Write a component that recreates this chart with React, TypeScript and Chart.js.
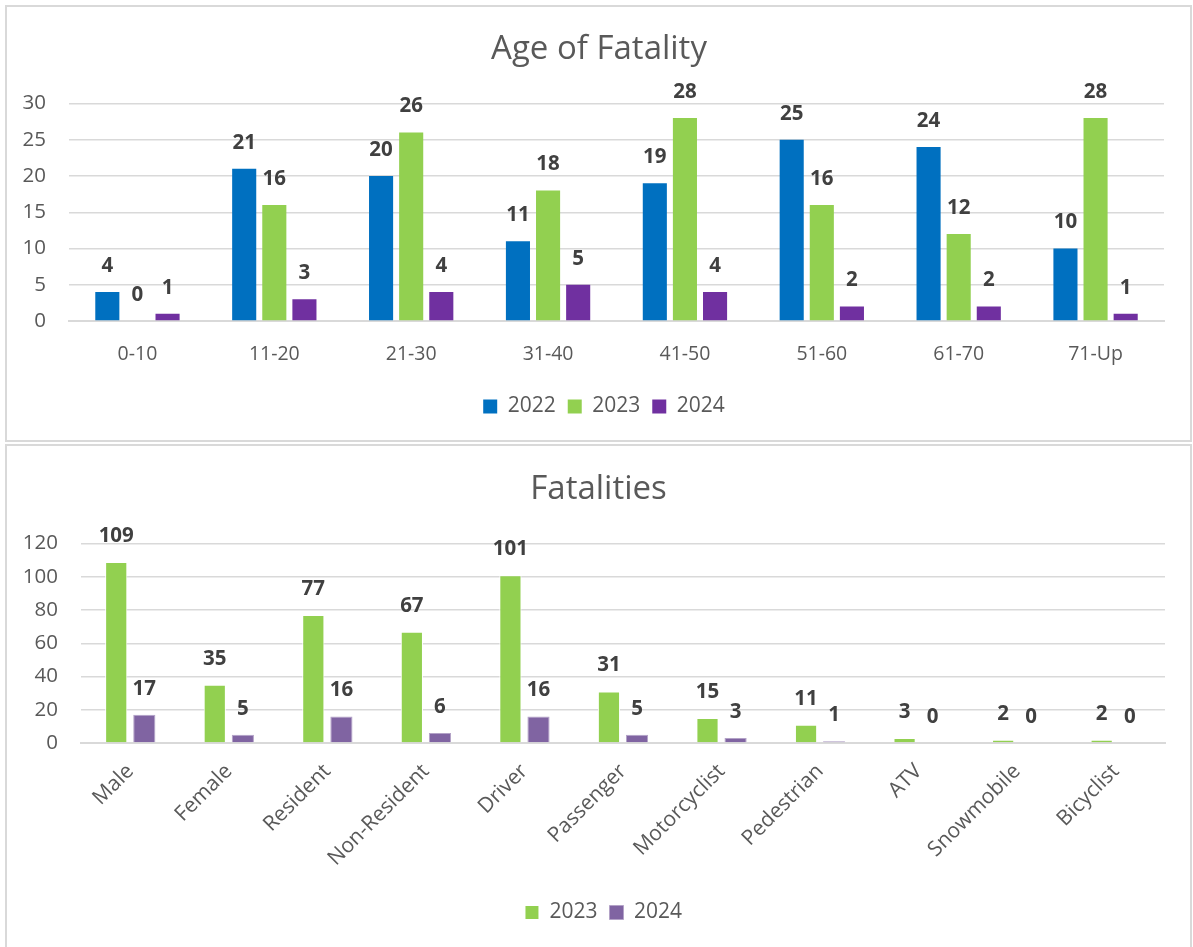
import React, { useEffect, useRef } from "react";
import { Chart, registerables } from "chart.js";

Chart.register(...registerables);

const ageCategories = ["0-10", "11-20", "21-30", "31-40", "41-50", "51-60", "61-70", "71-Up"];
const age2022 = [4, 21, 20, 11, 19, 25, 24, 10];
const age2023 = [0, 16, 26, 18, 28, 16, 12, 28];
const age2024 = [1, 3, 4, 5, 4, 2, 2, 1];
const ageTicks = [0, 5, 10, 15, 20, 25, 30];

const fatCategories = ["Male", "Female", "Resident", "Non-Resident", "Driver", "Passenger", "Motorcyclist", "Pedestrian", "ATV", "Snowmobile", "Bicyclist"];
const fat2023 = [109, 35, 77, 67, 101, 31, 15, 11, 3, 2, 2];
const fat2024 = [17, 5, 16, 6, 16, 5, 3, 1, 0, 0, 0];
const fatTicks = [0, 20, 40, 60, 80, 100, 120];

const FONT = '"Open Sans", sans-serif';
const TEXT = "#595959";
const GRID = "#d9d9d9";

const valueLabels = {
  id: "valueLabels",
  afterDatasetsDraw(chart: any) {
    const ctx = chart.ctx;
    ctx.save();
    ctx.font = `bold 20.5px ${FONT}`;
    ctx.fillStyle = "#404040";
    ctx.textAlign = "center";
    ctx.textBaseline = "middle";
    chart.data.datasets.forEach((ds: any, i: number) => {
      const meta = chart.getDatasetMeta(i);
      meta.data.forEach((bar: any, j: number) => {
        ctx.fillText(String(ds.data[j]), bar.x, bar.y - 26);
      });
    });
    ctx.restore();
  },
};

// shift title and legend horizontally so they are centred like the reference
function shiftBoxes(titleDx: number, legendDx: number) {
  return {
    id: "shiftBoxes",
    afterLayout(chart: any) {
      const t = chart.titleBlock;
      if (t) {
        t.left += titleDx;
        t.right += titleDx;
      }
      const l = chart.legend;
      if (l) {
        l.left += legendDx;
        l.right += legendDx;
      }
    },
  };
}

function makeOptions(p: {
  title: string;
  titleTop: number;
  titleBottom: number;
  padR: number;
  padB: number;
  yWidth: number;
  xHeight: number;
  max: number;
  step: number;
  rotate: boolean;
  xFont: number;
  xPad: number;
}) {
  return {
    responsive: false,
    animation: false as const,
    events: [],
    layout: { padding: { left: 0, right: p.padR, top: 0, bottom: p.padB } },
    plugins: {
      title: {
        display: true,
        text: p.title,
        color: TEXT,
        font: { family: FONT, size: 33, weight: "normal" as const },
        padding: { top: p.titleTop, bottom: p.titleBottom },
      },
      legend: {
        position: "bottom" as const,
        labels: {
          color: TEXT,
          font: { family: FONT, size: 21 },
          boxWidth: 14,
          boxHeight: 14,
          padding: 12,
        },
      },
      tooltip: { enabled: false },
    },
    scales: {
      x: {
        grid: { display: false, drawTicks: false },
        border: { display: true, color: GRID, width: 2 },
        ticks: {
          color: TEXT,
          font: { family: FONT, size: p.xFont },
          padding: p.xPad,
          autoSkip: false,
          maxRotation: p.rotate ? 45 : 0,
          minRotation: p.rotate ? 45 : 0,
        },
        afterFit(scale: any) {
          scale.height = p.xHeight;
        },
      },
      y: {
        min: 0,
        max: p.max,
        grid: { color: GRID, lineWidth: 1.5, drawTicks: false },
        border: { display: false },
        ticks: {
          stepSize: p.step,
          color: TEXT,
          font: { family: FONT, size: 20.5 },
          padding: 23,
        },
        afterFit(scale: any) {
          scale.width = p.yWidth;
        },
      },
    },
  };
}

function AgeChart() {
  const ref = useRef<HTMLCanvasElement>(null);
  useEffect(() => {
    const chart = new Chart(ref.current!, {
      type: "bar",
      data: {
        labels: ageCategories,
        datasets: [
          { label: "2022", data: age2022, backgroundColor: "#0070C0", categoryPercentage: 0.66, barPercentage: 0.8 },
          { label: "2023", data: age2023, backgroundColor: "#92D050", categoryPercentage: 0.66, barPercentage: 0.8 },
          { label: "2024", data: age2024, backgroundColor: "#7030A0", categoryPercentage: 0.66, barPercentage: 0.8 },
        ],
      },
      options: makeOptions({
        title: "Age of Fatality",
        titleTop: 30,
        titleBottom: 34,
        padR: 29,
        padB: 14,
        yWidth: 69,
        xHeight: 63,
        max: ageTicks[ageTicks.length - 1],
        step: ageTicks[1] - ageTicks[0],
        rotate: false,
        xFont: 19.5,
        xPad: 22,
      }) as any,
      plugins: [valueLabels, shiftBoxes(17, 22)],
    });
    return () => chart.destroy();
  }, []);
  return <canvas ref={ref} width={1193} height={441} style={{ position: "absolute", left: 0, top: 0 }} />;
}

function FatChart() {
  const ref = useRef<HTMLCanvasElement>(null);
  useEffect(() => {
    const chart = new Chart(ref.current!, {
      type: "bar",
      data: {
        labels: fatCategories,
        datasets: [
          { label: "2023", data: fat2023, backgroundColor: "#92D050", borderColor: "#ffffff", borderWidth: 1, categoryPercentage: 0.57, barPercentage: 0.79 },
          { label: "2024", data: fat2024, backgroundColor: "#8064A2", borderColor: "#b3a2c7", borderWidth: 1, categoryPercentage: 0.57, barPercentage: 0.79 },
        ],
      },
      options: makeOptions({
        title: "Fatalities",
        titleTop: 27,
        titleBottom: 34,
        padR: 28,
        padB: 14,
        yWidth: 81,
        xHeight: 147,
        max: fatTicks[fatTicks.length - 1],
        step: fatTicks[1] - fatTicks[0],
        rotate: true,
        xFont: 21,
        xPad: 16,
      }) as any,
      plugins: [valueLabels, shiftBoxes(16, 21)],
    });
    return () => chart.destroy();
  }, []);
  return <canvas ref={ref} width={1193} height={504} style={{ position: "absolute", left: 0, top: 443 }} />;
}

export default function App() {
  return (
    <div style={{ position: "absolute", left: 0, top: 0, width: 1193, height: 947, overflow: "hidden", background: "#fff" }}>
      <div style={{ position: "absolute", left: 5, top: 5, width: 1187, height: 437, border: `2px solid ${GRID}`, boxSizing: "border-box" }} />
      <div style={{ position: "absolute", left: 5, top: 444, width: 1187, height: 520, border: `2px solid ${GRID}`, boxSizing: "border-box" }} />
      <AgeChart />
      <FatChart />
    </div>
  );
}
